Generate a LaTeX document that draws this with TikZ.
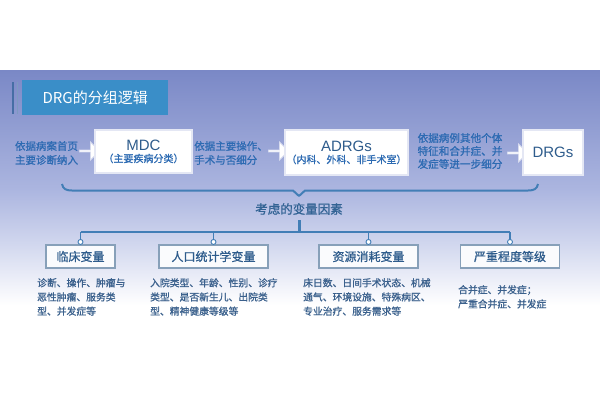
\documentclass[tikz,border=0pt]{standalone}
\usepackage{fontspec}
\setmainfont{Noto Sans CJK SC}
\newfontfamily\cjkb{Noto Sans CJK SC}[FakeBold=1]
\newfontfamily\latinsans{Liberation Sans}
\usetikzlibrary{shapes.arrows}
\definecolor{bgA}{RGB}{122,136,198}
\definecolor{bgB}{RGB}{172,182,224}
\definecolor{bgC}{RGB}{214,219,240}
\definecolor{titleblue}{RGB}{58,142,200}
\definecolor{sideline}{RGB}{70,110,165}
\definecolor{labblue}{RGB}{44,106,178}
\definecolor{darkblue}{RGB}{46,92,140}
\definecolor{linecol}{RGB}{66,126,182}
\definecolor{boxline}{RGB}{135,160,185}
\definecolor{desccol}{RGB}{58,96,140}
\tikzset{
  lab/.style={text=labblue, font=\cjkb\fontsize{10.5}{14}\selectfont, align=left, inner sep=0pt},
  wbox/.style={draw=white!80!bgA, line width=1.2pt, fill=white, inner sep=0pt, align=center},
  barrow/.style={single arrow, draw=white!70!bgA, fill=white, line width=0.8pt,
    minimum height=20pt, minimum width=18pt, single arrow head extend=3.5pt, inner sep=0pt},
  vbox/.style={draw=boxline, line width=1.1pt, fill=white!88!bgC, minimum height=23pt,
    inner sep=0pt, text=darkblue, font=\cjkb\fontsize{12}{14}\selectfont},
  desc/.style={text=desccol, font=\cjkb\fontsize{9.8}{14.2}\selectfont, align=left,
    inner sep=0pt, anchor=north west},
  tree/.style={draw=linecol, line width=1.5pt},
  knob/.style={circle, draw=linecol, fill=white, line width=0.9pt, inner sep=0pt, minimum size=5pt}
}
\begin{document}
\begin{tikzpicture}[x=1pt,y=-1pt]
\useasboundingbox (0,0) rectangle (600,400);
% background panel
\fill[top color=bgA, bottom color=bgB] (0,70) rectangle (600,191);
\fill[top color=bgB, bottom color=bgC] (0,190) rectangle (600,251);
\fill[top color=bgC, bottom color=white] (0,250) rectangle (600,305);
% title
\draw[sideline, line width=1.4pt] (13,82) -- (13,114);
\draw[sideline!70!white, line width=1.4pt] (17.5,82) -- (17.5,114);
\node[fill=titleblue, minimum width=146pt, minimum height=35pt, anchor=north west,
  text=white, font=\fontsize{15}{17}\selectfont, inner sep=0pt] (title) at (22,80) {DRG的分组逻辑};
% row 1
\node[lab] (l1) at (46.5,153) {依据病案首页\\主要诊断纳入};
\node[barrow] (a1) at (89,151) {};
\node[wbox, minimum width=97pt, minimum height=43pt] (mdc) at (143.5,151.5)
  {{\latinsans\fontsize{15}{17}\selectfont\color{darkblue}MDC}\\[0pt]{\cjkb\fontsize{10}{12}\selectfont\color{labblue}（主要疾病分类）}};
\node[lab] (l2) at (231,153) {依据主要操作、\\手术与否细分};
\node[barrow] (a2) at (278,151) {};
\node[wbox, minimum width=123pt, minimum height=45pt] (adrg) at (346.5,152.5)
  {{\latinsans\fontsize{15}{17}\selectfont\color{darkblue}ADRGs}\\[0pt]{\cjkb\fontsize{10}{12}\selectfont\color{labblue}（内科、外科、非手术室）}};
\node[lab, font=\cjkb\fontsize{10.6}{13}\selectfont] (l3) at (460,151) {依据病例其他个体\\特征和合并症、并\\发症等进一步细分};
\node[barrow] (a3) at (517,153) {};
\node[wbox, minimum width=60pt, minimum height=45pt, text=darkblue, font=\latinsans\fontsize{15}{17}\selectfont] (drg) at (553,152.5) {DRGs};
% brace
\draw[linecol, line width=2pt, line join=round]
  (62,184) .. controls (63,189) and (66,190.5) .. (72,190.5) -- (293,190.5) -- (299,196) -- (305,190.5)
  -- (528,190.5) .. controls (534,190.5) and (537,189) .. (538,184);
\node[text=darkblue!80!linecol, font=\cjkb\fontsize{12.5}{14}\selectfont, inner sep=0pt] (factors) at (299,209) {考虑的变量因素};
% tree
\coordinate (hub) at (299,232);
\draw[linecol, line width=3pt] (factors.south |- 0,220) -- (hub);
\node[vbox, minimum width=69pt] (v1) at (80.5,256.5) {临床变量};
\node[vbox, minimum width=109pt] (v2) at (213.5,256.5) {人口统计学变量};
\node[vbox, minimum width=99pt] (v3) at (368.5,256.5) {资源消耗变量};
\node[vbox, minimum width=99pt] (v4) at (510,256.5) {严重程度等级};
\draw[tree] (v1.north |- hub) -- (v4.north |- hub);
\foreach \v in {v1,v2,v3,v4}{
  \draw[draw=linecol, line width=1.5pt] (\v.north |- hub) -- ([yshift=4pt]\v.north);
  \node[knob] at ([yshift=2.5pt]\v.north) {};
}
% descriptions
\node[desc] (d1) at (37,278) {诊断、操作、肿瘤与\\恶性肿瘤、服务类\\型、并发症等};
\node[desc] (d2) at (150,278) {入院类型、年龄、性别、诊疗\\类型、是否新生儿、出院类\\型、精神健康等级等};
\node[desc] (d3) at (303,278) {床日数、日间手术状态、机械\\通气、环境设施、特殊病区、\\专业治疗、服务需求等};
\node[desc] (d4) at (458,285) {合并症、并发症；\\严重合并症、并发症};
\end{tikzpicture}
\end{document}
